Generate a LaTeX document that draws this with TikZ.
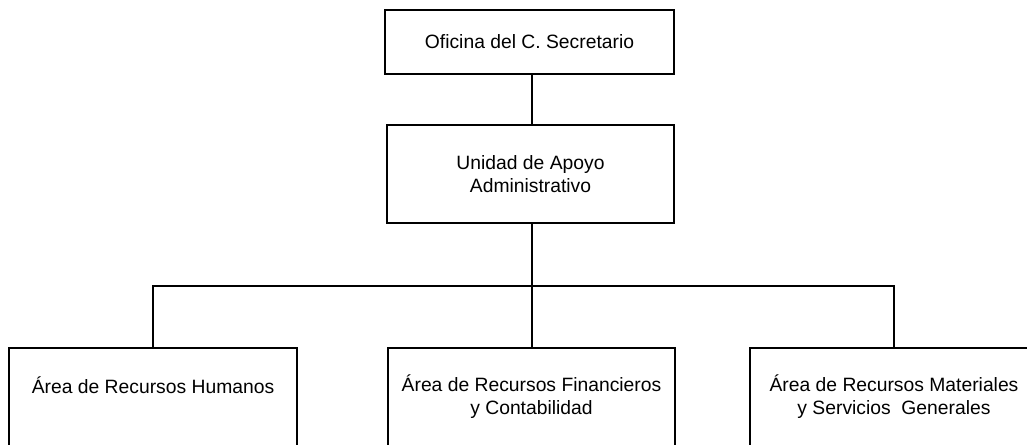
\documentclass[tikz,border=0pt]{standalone}
\usepackage{fontspec}
\setmainfont{Liberation Sans}
\begin{document}
\begin{tikzpicture}[x=1pt,y=-1pt,
  box/.style={draw=black,line width=1.8pt,fill=white,align=center,inner sep=0pt,
    font=\fontsize{19.3}{23}\selectfont},
  conn/.style={draw=black,line width=1.8pt}]
\useasboundingbox (0,0) rectangle (1027,444);
\clip (0,0) rectangle (1027,444);
\fill[white] (0,0) rectangle (1027,444);
\node[box,minimum width=289pt,minimum height=64pt] (top) at (529.5,42) {Oficina del C. Secretario};
\node[box,minimum width=287pt,minimum height=98pt] (uaa) at (530.5,174) {Unidad de Apoyo\\Administrativo};
\coordinate (bar) at (0,286);
\node[box,minimum width=288pt,minimum height=98pt] (rh) at (153,397) {Área de Recursos Humanos\\\mbox{}};
\node[box,minimum width=287pt,minimum height=98pt] (rf) at (531.5,397) {Área de Recursos Financieros\\y Contabilidad};
\node[box,minimum width=288pt,minimum height=98pt] (rm) at (894,397) {Área de Recursos Materiales\\y Servicios\ \ Generales};
\draw[conn] ([xshift=2.5pt]top.south) -- ([xshift=1.5pt]uaa.north);
\draw[conn] ([xshift=1.5pt]uaa.south) -- ([xshift=1.5pt]uaa.south |- bar);
\draw[conn] (rh.north) -- (rh.north |- bar) -- (rm.north |- bar) -- (rm.north);
\draw[conn] ([xshift=0.5pt]rf.north) -- ([xshift=0.5pt]rf.north |- bar);
\end{tikzpicture}
\end{document}
